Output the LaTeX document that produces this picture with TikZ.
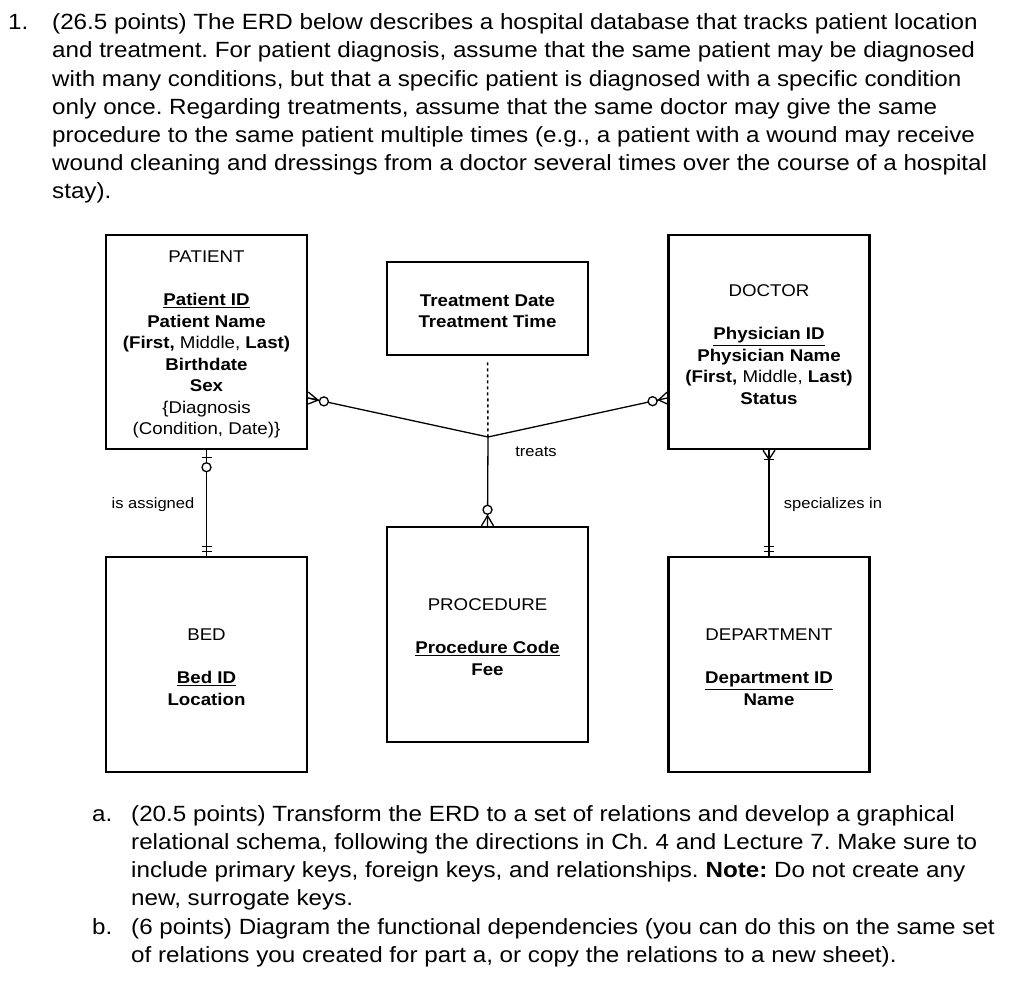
\documentclass[tikz,border=0pt]{standalone}
\usepackage{fontspec}
\setmainfont{Liberation Sans}[FakeStretch=1.1]
\usetikzlibrary{calc}
\frenchspacing
\begin{document}
\begin{tikzpicture}[x=1pt,y=-1pt,
  entity/.style={draw, line width=2.5pt, minimum width=201pt, inner sep=0pt, align=center, font=\fontsize{17}{21.5}\selectfont},
  body/.style={anchor=base west, inner sep=0pt, font=\fontsize{22}{28}\selectfont},
  conn/.style={line width=1.3pt},
  dashconn/.style={line width=1.5pt, dash pattern=on 3pt off 3pt},
  lbl/.style={font=\fontsize{15}{18}\selectfont, inner sep=0pt},
  ring/.style={line width=1.3pt, fill=white}
]
\useasboundingbox (0,0) rectangle (1024,998);

% question text
\node[body] (n1) at (8,30) {1.};
\node[body] (q1) at (52,30) {(26.5 points) The ERD below describes a hospital database that tracks patient location};
\node[body] (q2) at (52,58) {and treatment. For patient diagnosis, assume that the same patient may be diagnosed};
\node[body] (q3) at (52,86) {with many conditions, but that a specific patient is diagnosed with a specific condition};
\node[body] (q4) at (52,114) {only once. Regarding treatments, assume that the same doctor may give the same};
\node[body] (q5) at (52,142) {procedure to the same patient multiple times (e.g., a patient with a wound may receive};
\node[body] (q6) at (52,170) {wound cleaning and dressings from a doctor several times over the course of a hospital};
\node[body] (q7) at (52,198) {stay).};

% entities
\node[entity, minimum height=214pt] (patient) at (206.5,342) {\rule{0pt}{17.5pt}PATIENT\\[21.5pt]\textbf{\underline{Patient ID}}\\ \textbf{Patient Name}\\ \textbf{(First,} Middle, \textbf{Last)}\\ \textbf{Birthdate}\\ \textbf{Sex}\\ \{Diagnosis\\ (Condition, Date)\}};
\node[entity, minimum height=93pt] (treatment) at (487.5,308.5) {\rule{0pt}{17.5pt}\textbf{Treatment Date}\\ \textbf{Treatment Time}};
\node[entity, minimum height=214pt] (doctor) at (769,342) {\rule{0pt}{17.5pt}DOCTOR\\[21.5pt]\textbf{\underline{Physician ID}}\\ \textbf{Physician Name}\\ \textbf{(First,} Middle, \textbf{Last)}\\ \textbf{Status}};
\node[entity, minimum height=215pt] (bed) at (206.5,664.5) {\rule{0pt}{17.5pt}BED\\[21.5pt]\textbf{\underline{Bed ID}}\\ \textbf{Location}};
\node[entity, minimum height=215pt] (procedure) at (487.5,634.5) {\rule{0pt}{17pt}PROCEDURE\\[21.5pt]\textbf{\underline{Procedure Code}}\\ \textbf{Fee}};
\node[entity, minimum height=215pt] (department) at (769,664.5) {\rule{0pt}{17.5pt}DEPARTMENT\\[21.5pt]\textbf{\underline{Department ID}}\\ \textbf{Name}};

% connectors
\coordinate (j) at (488,437);
\coordinate (pa) at ($(patient.east)+(0,56)$);
\coordinate (da) at ($(doctor.west)+(0,56)$);
\draw[conn] (pa) -- (j);
\draw[conn] (da) -- (j);
\draw[conn] (procedure.north) -- (j);
\draw[dashconn] ($(treatment.south)+(0,6)$) -- (j);
\draw[conn] (patient.south) -- (bed.north);
\draw[conn] (doctor.south) -- (department.north);

% patient side of treats: zero or many
\coordinate (pc) at ($(pa)!10pt!(j)$);
\draw[conn] ($(pa)+(0,-6)$) -- (pc) -- ($(pa)+(0,6)$) (pa) -- (pc);
\draw[ring] ($(pa)!16pt!(j)$) circle (4.5);
% doctor side of treats: zero or many
\coordinate (dc) at ($(da)!9pt!(j)$);
\draw[conn] ($(da)+(0,-6)$) -- (dc) -- ($(da)+(0,6)$);
\draw[ring] ($(da)!15pt!(j)$) circle (4.5);
% procedure side of treats: zero or many
\coordinate (rc) at ($(procedure.north)+(0,-10)$);
\draw[conn] ($(procedure.north)+(-6,0)$) -- (rc) -- ($(procedure.north)+(6,0)$);
\draw[ring] ($(procedure.north)+(0,-16)$) circle (4.5);
% patient side of is assigned: zero or one
\draw[conn] ($(patient.south)+(-5,7)$) -- ($(patient.south)+(5,7)$);
\draw[ring] ($(patient.south)+(0,17)$) circle (4.5);
% bed side: one and only one
\draw[conn] ($(bed.north)+(-5,-9)$) -- ($(bed.north)+(5,-9)$);
\draw[conn] ($(bed.north)+(-5,-4)$) -- ($(bed.north)+(5,-4)$);
% doctor side of specializes in: one or many
\coordinate (sc) at ($(doctor.south)+(0,9)$);
\draw[conn] ($(doctor.south)+(-6,0)$) -- (sc) -- ($(doctor.south)+(6,0)$);
\draw[conn] ($(sc)+(-5,0)$) -- ($(sc)+(5,0)$);
% department side: one and only one
\draw[conn] ($(department.north)+(-5,-9)$) -- ($(department.north)+(5,-9)$);
\draw[conn] ($(department.north)+(-5,-4)$) -- ($(department.north)+(5,-4)$);

% relationship labels
\node[lbl] (l1) at (153,505) {is assigned};
\node[lbl] (l2) at (536,452) {treats};
\node[lbl] (l3) at (833,505) {specializes in};

% sub-questions
\node[body] (na) at (92,821) {a.};
\node[body] (a1) at (131,821) {(20.5 points) Transform the ERD to a set of relations and develop a graphical};
\node[body] (a2) at (131,849) {relational schema, following the directions in Ch. 4 and Lecture 7. Make sure to};
\node[body] (a3) at (131,877) {include primary keys, foreign keys, and relationships. \textbf{Note:} Do not create any};
\node[body] (a4) at (131,905) {new, surrogate keys.};
\node[body] (nb) at (92,934) {b.};
\node[body] (b1) at (131,934) {(6 points) Diagram the functional dependencies (you can do this on the same set};
\node[body] (b2) at (131,962) {of relations you created for part a, or copy the relations to a new sheet).};
\end{tikzpicture}
\end{document}
